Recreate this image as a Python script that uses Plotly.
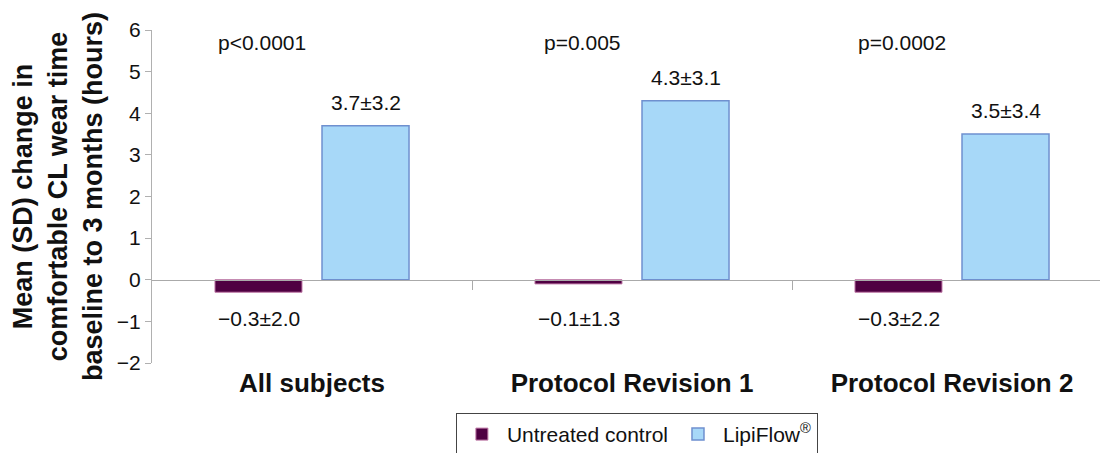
import plotly.graph_objects as go

categories = ["All subjects", "Protocol Revision 1", "Protocol Revision 2"]
control_vals = [-0.3, -0.1, -0.3]
lipiflow_vals = [3.7, 4.3, 3.5]
control_labels = ["\u22120.3\u00b12.0", "\u22120.1\u00b11.3", "\u22120.3\u00b12.2"]
lipiflow_labels = ["3.7\u00b13.2", "4.3\u00b13.1", "3.5\u00b13.4"]
p_labels = ["p<0.0001", "p=0.005", "p=0.0002"]
y_ticks = [-2, -1, 0, 1, 2, 3, 4, 5, 6]
y_ticktext = ["\u22122", "\u22121", "0", "1", "2", "3", "4", "5", "6"]

FONT = "Liberation Sans, Arial, sans-serif"

fig = go.Figure()
fig.add_trace(go.Bar(
    x=categories, y=control_vals, name="Untreated control",
    marker=dict(color="#4f0042", line=dict(color="#c07aa8", width=1)),
))
fig.add_trace(go.Bar(
    x=categories, y=lipiflow_vals, name="LipiFlow<sup>\u00ae</sup>",
    marker=dict(color="#a7d8f8", line=dict(color="#6f90cf", width=1.5)),
))
# invisible trace so the zero-line axis is drawn
fig.add_trace(go.Scatter(x=[0], y=[0], xaxis="x2", mode="markers",
                         marker=dict(opacity=0), showlegend=False, hoverinfo="skip"))

annotations = []
for i, c in enumerate(categories):
    annotations.append(dict(x=c, y=lipiflow_vals[i], xref="x", yref="y", xshift=53.5,
                            text=lipiflow_labels[i], showarrow=False, yanchor="bottom", yshift=10,
                            font=dict(size=21, color="#111", family=FONT)))
    annotations.append(dict(x=c, y=0, xref="x", yref="y", xshift=-53.5,
                            text=control_labels[i], showarrow=False, yanchor="top", yshift=-25,
                            font=dict(size=21, color="#111", family=FONT)))
    annotations.append(dict(x=c, y=5.71, xref="x", yref="y", xshift=-50,
                            text=p_labels[i], showarrow=False, yanchor="middle",
                            font=dict(size=21, color="#111", family=FONT)))

x_range = [-0.5, -0.5 + 964 / 320]

fig.update_layout(
    width=1108, height=453,
    margin=dict(l=144, r=0, t=22, b=98, autoexpand=False),
    paper_bgcolor="white", plot_bgcolor="white",
    barmode="group", bargap=0.331, bargroupgap=0.187,
    font=dict(family=FONT, color="#111"),
    xaxis=dict(range=x_range, showline=False, showgrid=False, zeroline=False,
               ticks="", tickfont=dict(size=26, color="#111", family=FONT, weight="bold"),
               ticklabelstandoff=2),
    xaxis2=dict(overlaying="x", anchor="free", position=0.25, range=x_range,
                showline=True, linecolor="#aaaaaa", linewidth=1.2,
                tickvals=[0.5, 1.5], ticks="outside", ticklen=9, tickcolor="#aaaaaa",
                showticklabels=False, showgrid=False, zeroline=False),
    yaxis=dict(range=[-2, 6], tickvals=y_ticks, ticktext=y_ticktext,
               showline=True, linecolor="#b0b0b0", linewidth=1.2,
               ticks="outside", ticklen=6, tickcolor="#b0b0b0",
               showgrid=False, zeroline=False,
               tickfont=dict(size=21, color="#111", family=FONT),
               title=dict(text="Mean (SD) change in<br>comfortable CL wear time<br>baseline to 3 months (hours)",
                          font=dict(size=27, color="#111", family=FONT, weight="bold"), standoff=14)),
    legend=dict(orientation="h", x=0.503, xanchor="center", y=-0.15, yanchor="top",
                bordercolor="#444444", borderwidth=1,
                font=dict(size=21, color="#111", family=FONT),
                itemwidth=40, traceorder="normal"),
    annotations=annotations,
    showlegend=True,
)

fig.write_html("out.html")
